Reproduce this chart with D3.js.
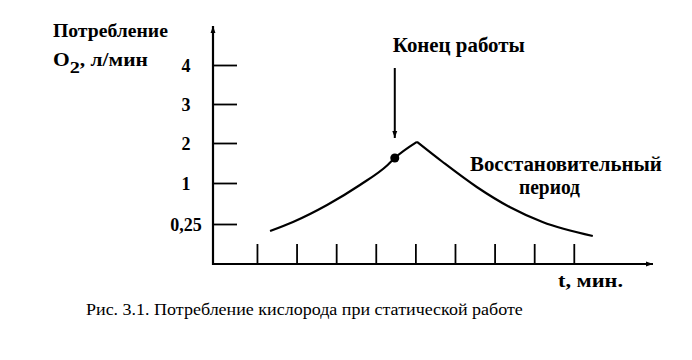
<!DOCTYPE html>
<html>
<head>
<meta charset="utf-8">
<script src="https://cdn.jsdelivr.net/npm/d3@7"></script>
<style>
  html, body { margin: 0; padding: 0; background: #fff; }
  svg { display: block; }
</style>
</head>
<body>
<svg id="chart" width="692" height="360"></svg>
<script>
// ---- data ----
const minuteTicks = [1, 2, 3, 4, 5, 6, 7, 8, 9];
const o2Ticks = [0.25, 1, 2, 3, 4];
const o2TickLabels = ["0,25", "1", "2", "3", "4"];
const workTime = [1.33, 1.91, 2.77, 3.60, 4.30, 4.48, 5.04];
const workO2 = [0.206, 0.287, 0.598, 0.963, 1.45, 1.625, 2.03];
const recoveryTime = [5.04, 5.69, 6.55, 7.38, 8.21, 9.48];
const recoveryO2 = [2.03, 1.525, 0.927, 0.561, 0.287, 0.175];
const workEndTime = 4.48;
const workEndO2 = 1.625;

// ---- layout ----
const FONT = "Liberation Serif";
const svg = d3.select("#chart");
const x = d3.scaleLinear().domain([-0.11, 11.0]).range([213, 653]);
// the printed axis spaces its labels evenly, so the scale is piecewise
const y = d3.scaleLinear().domain([0, 0.25, 1, 2, 3, 4]).range([264, 224, 183, 143, 104, 65]);
const yAxisTop = 26;

// arrow markers
const defs = svg.append("defs");
defs.append("marker").attr("id", "arr").attr("viewBox", "0 0 10 10")
  .attr("refX", 10).attr("refY", 5).attr("markerWidth", 18).attr("markerHeight", 7)
  .attr("markerUnits", "userSpaceOnUse").attr("orient", "auto")
  .append("path").attr("d", "M0,1.5 L10,5 L0,8.5 Z").attr("fill", "#000");

// axis lines with arrows
svg.append("line").attr("x1", x(-0.11)).attr("y1", y(0) + 1).attr("x2", x(-0.11)).attr("y2", yAxisTop)
  .attr("stroke", "#000").attr("stroke-width", 2.2).attr("marker-end", "url(#arr)");
svg.append("line").attr("x1", x(-0.11) - 1).attr("y1", y(0)).attr("x2", x(11.0)).attr("y2", y(0))
  .attr("stroke", "#000").attr("stroke-width", 2.2).attr("marker-end", "url(#arr)");

// y axis ticks
const yAxis = d3.axisLeft(y).tickValues(o2Ticks)
  .tickFormat((d, i) => o2TickLabels[i]).tickSizeInner(-24).tickSizeOuter(0).tickPadding(27);
const gy = svg.append("g").attr("transform", `translate(${x(-0.11)},0)`).call(yAxis);
gy.attr("font-family", null).attr("font-size", null);
gy.select(".domain").remove();
gy.selectAll(".tick line").attr("stroke", "#000").attr("stroke-width", 1.8);
gy.selectAll(".tick text").attr("text-anchor", "middle").attr("dy", "0.35em").attr("fill", "#000")
  .style("font-family", FONT).style("font-weight", "bold").style("font-size", "18px");

// x axis ticks
const xAxis = d3.axisBottom(x).tickValues(minuteTicks).tickFormat("").tickSizeInner(-20).tickSizeOuter(0);
const gx = svg.append("g").attr("transform", `translate(0,${y(0)})`).call(xAxis);
gx.select(".domain").remove();
gx.selectAll(".tick line").attr("stroke", "#000").attr("stroke-width", 1.8);

// curves
const line = d3.line().x(d => x(d[0])).y(d => y(d[1])).curve(d3.curveMonotoneX);
svg.append("path").datum(workTime.map((t, i) => [t, workO2[i]]))
  .attr("d", line).attr("fill", "none").attr("stroke", "#000").attr("stroke-width", 2.2);
svg.append("path").datum(recoveryTime.map((t, i) => [t, recoveryO2[i]]))
  .attr("d", line).attr("fill", "none").attr("stroke", "#000").attr("stroke-width", 2.2);

// end of work point
svg.append("circle").attr("cx", x(workEndTime)).attr("cy", y(workEndO2)).attr("r", 4.5).attr("fill", "#000");
svg.append("line").attr("x1", x(workEndTime)).attr("y1", 68)
  .attr("x2", x(workEndTime)).attr("y2", y(workEndO2) - 20)
  .attr("stroke", "#000").attr("stroke-width", 2).attr("marker-end", "url(#arr)");

// labels: stretched horizontally to the printed width with a transform
function fit(t, px, py, len) {
  const w = t.node().getComputedTextLength();
  const sx = len && w > 0 ? len / w : 1;
  t.attr("transform", `translate(${px},${py}) scale(${sx},1)`);
  return t;
}
function label(txt, px, py, size, len, weight) {
  const t = svg.append("text").attr("x", 0).attr("y", 0)
    .style("font-family", FONT).attr("fill", "#000")
    .style("font-size", size + "px").style("font-weight", weight || "bold")
    .text(txt);
  return fit(t, px, py, len);
}
label("Потребление", 53, 37, 18, 115);
const o2 = svg.append("text").attr("x", 0).attr("y", 0).style("font-family", FONT)
  .style("font-size", "18px").style("font-weight", "bold").attr("fill", "#000");
o2.append("tspan").text("O");
o2.append("tspan").attr("dy", 7).style("font-size", "17px").text("2");
o2.append("tspan").attr("dy", -7).text(", л/мин");
fit(o2, 53, 66, 95);
label("Конец работы", x(workEndTime) - 2, 52, 20, 132);
label("Восстановительный", 470, 171, 20, 192);
label("период", 519, 194, 20, 61);
label("t, мин.", 558, 287, 18, 65);
label("Рис. 3.1. Потребление кислорода при статической работе", 86, 315, 17, 437, "normal");
</script>
</body>
</html>
